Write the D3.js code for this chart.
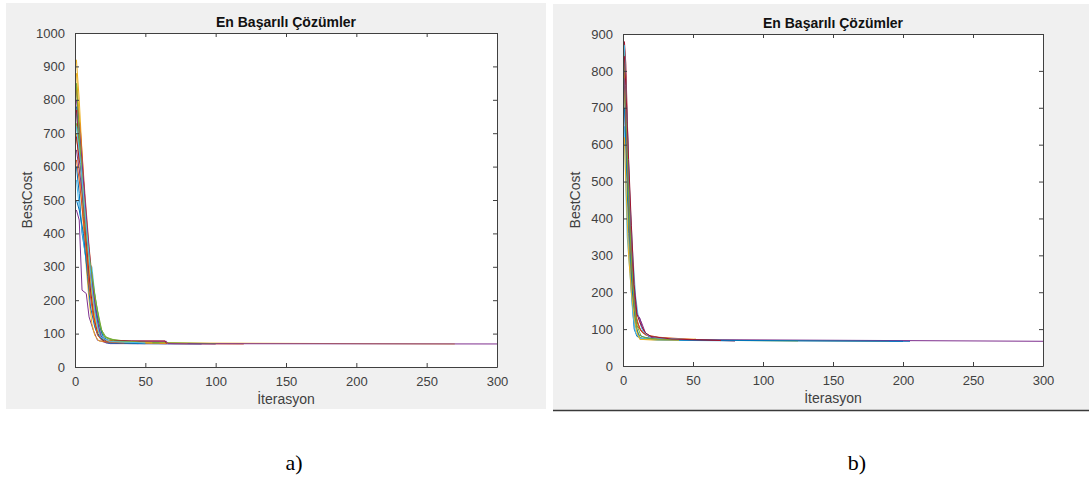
<!DOCTYPE html>
<html><head><meta charset="utf-8">
<script src="https://cdn.jsdelivr.net/npm/d3@7"></script>
<style>body{margin:0;background:#fff}svg{display:block}</style>
</head><body>
<svg id="c" width="1089" height="483"></svg>
<script>
// ---- data (iteration, BestCost knots) ----
const titleText = "En Başarılı Çözümler";
const xLabel = "İterasyon";
const yLabel = "BestCost";
const xTicks = [0, 50, 100, 150, 200, 250, 300];
const yTicksA = [0, 100, 200, 300, 400, 500, 600, 700, 800, 900, 1000];
const yTicksB = [0, 100, 200, 300, 400, 500, 600, 700, 800, 900];
const matlabColors = ["#0072BD", "#D95319", "#EDB120", "#7E2F8E", "#77AC30", "#4DBEEE", "#A2142F"];

const runsA = [
  [[1,780],[3,700],[6,450],[9,300],[12,200],[15,110],[18,85],[22,72],[40,70],[90,69]],
  [[1,690],[4,600],[7,420],[10,260],[13,160],[16,100],[20,80],[30,74],[70,70],[120,69]],
  [[1,920],[3,800],[6,560],[9,350],[12,210],[15,120],[18,90],[25,78],[60,72],[270,69]],
  [[1,470],[3,440],[5,230],[8,220],[10,150],[13,110],[16,80],[25,70],[300,69]],
  [[1,840],[4,650],[7,480],[10,330],[13,230],[16,150],[19,100],[23,85],[40,75],[100,70]],
  [[1,760],[4,600],[8,420],[10,310],[12,300],[14,220],[17,140],[20,95],[26,80],[50,72]],
  [[1,770],[3,650],[6,520],[9,380],[11,280],[14,180],[17,110],[20,80],[30,72],[65,70]],
  [[1,600],[3,520],[5,400],[8,320],[11,250],[14,190],[17,130],[20,90],[25,75],[60,71]],
  [[1,830],[4,700],[7,520],[10,360],[13,230],[15,150],[18,95],[22,75],[45,70]],
  [[1,700],[3,600],[6,420],[8,300],[10,200],[12,130],[14,95],[17,78],[30,73],[80,70]],
  [[1,650],[4,560],[7,450],[10,310],[13,210],[16,130],[19,90],[23,78],[65,77],[66,70],[100,69]],
  [[1,730],[4,620],[7,470],[10,330],[13,240],[16,170],[19,110],[22,90],[28,80],[60,72]],
  [[1,560],[3,480],[6,380],[9,280],[12,200],[15,140],[18,100],[21,82],[35,75]],
  [[1,690],[3,620],[6,560],[8,380],[11,230],[14,140],[16,100],[20,80],[40,78],[64,78],[65,70]],
  [[1,500],[3,470],[6,400],[9,270],[11,180],[14,120],[17,90],[24,72],[50,70]],
  [[1,620],[3,560],[5,480],[8,350],[10,240],[13,150],[16,95],[20,76],[35,72]],
  [[1,880],[3,750],[5,600],[8,410],[11,260],[14,150],[17,100],[21,80],[30,76],[55,72]],
  [[1,800],[3,720],[6,560],[9,400],[12,260],[15,160],[18,95],[22,78]],
  [[1,850],[3,700],[6,500],[9,360],[12,280],[15,190],[18,120],[21,90],[28,78],[45,74]],
  [[1,720],[4,610],[7,470],[10,330],[12,240],[14,170],[16,120],[18,90],[25,76],[50,72]]
];

const runsB = [
  [[1,760],[2,600],[4,360],[6,200],[8,100],[10,80],[15,74],[30,70],[205,67]],
  [[1,870],[2,780],[4,520],[6,320],[8,180],[10,110],[14,90],[20,80],[30,75],[60,70]],
  [[1,750],[3,580],[5,300],[7,180],[9,110],[11,80],[14,72],[25,70],[52,73],[53,70],[190,68]],
  [[1,860],[2,700],[4,480],[6,300],[8,200],[10,140],[12,130],[14,100],[18,80],[30,72],[300,67]],
  [[1,820],[2,650],[4,420],[6,250],[8,150],[10,100],[12,75],[20,72],[45,70],[125,68]],
  [[1,650],[2,480],[3,350],[5,250],[7,140],[9,90],[12,75],[25,70],[80,68]],
  [[1,880],[2,820],[4,540],[6,350],[8,180],[10,120],[13,95],[16,85],[22,78],[40,72],[80,68]],
  [[1,700],[3,520],[5,330],[7,180],[9,110],[11,85],[15,78],[25,72],[45,70],[200,67]],
  [[1,800],[3,560],[5,360],[7,220],[9,140],[12,100],[16,85],[25,78],[50,72]],
  [[1,620],[2,500],[4,300],[6,200],[8,130],[10,90],[12,72],[40,70]],
  [[1,780],[3,600],[5,380],[7,240],[9,150],[11,135],[13,120],[16,90],[20,78],[35,72]],
  [[1,850],[2,720],[4,460],[6,290],[8,170],[10,110],[13,80],[20,74],[40,71]],
  [[1,870],[3,660],[5,450],[7,300],[9,190],[11,130],[14,95],[18,82],[25,76],[45,72]],
  [[1,840],[2,760],[4,560],[6,380],[8,220],[10,140],[13,110],[16,90],[20,80],[35,73],[70,69]]
];

const panelLabels = ["a)", "b)"];

// ---- layout ----
const svg = d3.select("#c");
const FONT = "'Liberation Sans', Arial, sans-serif";
const panels = [
  {runs: runsA, yTicks: yTicksA, yMax: 1000, bg: [6, 3, 540, 406], ax: [75, 497, 33, 367], cap: [294, 470], id: "a"},
  {runs: runsB, yTicks: yTicksB, yMax: 900, bg: [553, 4, 536, 406], ax: [623, 1043, 34, 366], cap: [857, 470], id: "b", border: true}
];

panels.forEach((p, pi) => {
  const g = svg.append("g");
  g.append("rect").attr("x", p.bg[0]).attr("y", p.bg[1]).attr("width", p.bg[2]).attr("height", p.bg[3]).attr("fill", "#f0f0f0");
  if (p.border) {
    g.append("line").attr("x1", p.bg[0]).attr("x2", p.bg[0] + p.bg[2]).attr("y1", p.bg[1] + p.bg[3] + 0.5).attr("y2", p.bg[1] + p.bg[3] + 0.5)
      .attr("stroke", "#3a3a3a").attr("stroke-width", 1.5);
  }
  const [x0, x1, y0, y1] = p.ax;
  const x = d3.scaleLinear().domain([0, 300]).range([x0, x1]);
  const y = d3.scaleLinear().domain([0, p.yMax]).range([y1, y0]);

  g.append("rect").attr("x", x0).attr("y", y0).attr("width", x1 - x0).attr("height", y1 - y0).attr("fill", "#fff");

  const clipId = "clip" + p.id;
  g.append("clipPath").attr("id", clipId).append("rect").attr("x", x0).attr("y", y0).attr("width", x1 - x0).attr("height", y1 - y0);

  const line = d3.line().x(d => x(d[0])).y(d => y(d[1]));
  g.append("g").attr("clip-path", `url(#${clipId})`).selectAll("path").data(p.runs).join("path")
    .attr("d", line).attr("fill", "none").attr("stroke-width", 1)
    .attr("stroke", (d, i) => matlabColors[i % matlabColors.length]);

  const styleAxis = (sel) => {
    sel.selectAll(".domain").attr("stroke", "#404040");
    sel.selectAll(".tick line").attr("stroke", "#404040");
    sel.selectAll("text").attr("fill", "#404040").style("font-family", FONT).style("font-size", "13px");
  };
  const fmt = d3.format("d");
  g.append("g").attr("transform", `translate(0,${y1})`)
    .call(d3.axisBottom(x).tickValues(xTicks).tickFormat(fmt).tickSizeInner(-4).tickSizeOuter(0).tickPadding(10))
    .call(styleAxis);
  g.append("g").attr("transform", `translate(0,${y0})`)
    .call(d3.axisTop(x).tickValues(xTicks).tickSizeInner(-4).tickSizeOuter(0).tickFormat(""))
    .call(styleAxis);
  g.append("g").attr("transform", `translate(${x0},0)`)
    .call(d3.axisLeft(y).tickValues(p.yTicks).tickFormat(fmt).tickSizeInner(-4).tickSizeOuter(0).tickPadding(10))
    .call(styleAxis);
  g.append("g").attr("transform", `translate(${x1},0)`)
    .call(d3.axisRight(y).tickValues(p.yTicks).tickSizeInner(-4).tickSizeOuter(0).tickFormat(""))
    .call(styleAxis);

  const cx = (x0 + x1) / 2;
  g.append("text").attr("x", cx).attr("y", y0 - 6).attr("text-anchor", "middle")
    .style("font-family", FONT).style("font-size", "14px").style("font-weight", "bold").attr("fill", "#111")
    .text(titleText);
  g.append("text").attr("x", cx).attr("y", y1 + 37).attr("text-anchor", "middle")
    .style("font-family", FONT).style("font-size", "14px").attr("fill", "#404040").text(xLabel);
  g.append("text").attr("transform", `translate(${x0 - 43},${(y0 + y1) / 2}) rotate(-90)`).attr("text-anchor", "middle")
    .style("font-family", FONT).style("font-size", "14px").attr("fill", "#404040").text(yLabel);

  svg.append("text").attr("x", p.cap[0]).attr("y", p.cap[1]).attr("text-anchor", "middle")
    .style("font-family", "'Liberation Serif', 'Times New Roman', serif").style("font-size", "22px").attr("fill", "#000")
    .text(panelLabels[pi]);
});
</script>
</body></html>
